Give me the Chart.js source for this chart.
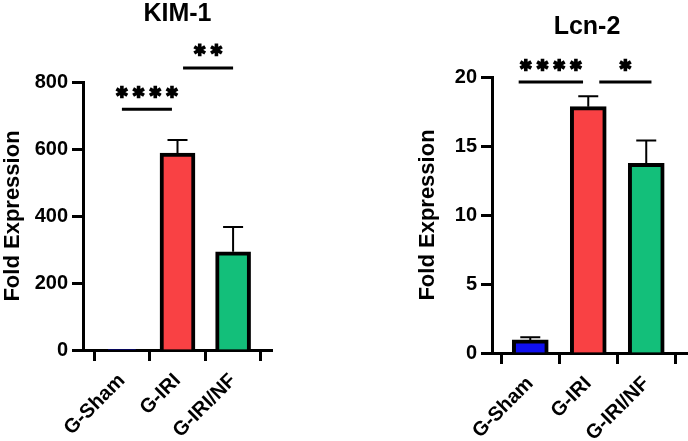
<!DOCTYPE html>
<html>
<head>
<meta charset="utf-8">
<script src="https://cdn.jsdelivr.net/npm/chart.js@4.4.1/dist/chart.umd.min.js"></script>
<style>
  html, body { margin: 0; padding: 0; background: #fff; }
  #wrap { position: relative; width: 688px; height: 441px; overflow: hidden; }
  canvas { position: absolute; top: 0; }
</style>
</head>
<body>
<div id="wrap">
  <canvas id="kim" width="344" height="441" style="left:0"></canvas>
  <canvas id="lcn" width="344" height="441" style="left:344px"></canvas>
</div>
<script>
// groups on the x axis
const categories = ['G-Sham', 'G-IRI', 'G-IRI/NF'];
const barColors = ['#1010f0', '#f94144', '#13bf7a'];

// KIM-1 fold expression (mean and upper error)
const kimMean = [1, 588, 293];
const kimErr = [0, 39, 74];
const kimTicks = [0, 200, 400, 600, 800];

// Lcn-2 fold expression (mean and upper error)
const lcnMean = [0.95, 17.85, 13.75];
const lcnErr = [0.2, 0.75, 1.65];
const lcnTicks = [0, 5, 10, 15, 20];

// significance brackets, in data units
const kimSig = [
    { from: 0, to: 0.9, y: 719, stars: 4, labelY: 770 },
    { from: 1.1, to: 2.0, y: 842, stars: 2, labelY: 896 }
];
const lcnSig = [
    { from: -0.2, to: 0.91, y: 19.64, stars: 4, labelY: 20.87 },
    { from: 1.19, to: 2.09, y: 19.64, stars: 1, labelY: 20.87 }
];

Chart.defaults.font.family = '"Liberation Sans", Arial, sans-serif';
Chart.defaults.font.weight = 'bold';
Chart.defaults.color = '#000';

// heavy six-armed asterisk like the Prism ones
function drawStar(ctx, x, y, r) {
    ctx.beginPath();
    for (let a = 0; a < 3; a++) {
        const t = Math.PI / 2 + a * Math.PI / 3;
        ctx.moveTo(x + r * Math.cos(t), y + r * Math.sin(t));
        ctx.lineTo(x - r * Math.cos(t), y - r * Math.sin(t));
    }
    ctx.stroke();
}

// Draws one-sided error bars, significance lines and the panel title
const extrasPlugin = {
    id: 'extras',
    afterDatasetsDraw(chart, args, opts) {
        const ctx = chart.ctx;
        const xs = chart.scales.x, ys = chart.scales.y;
        ctx.save();
        ctx.strokeStyle = '#000';
        ctx.lineWidth = 2;
        opts.mean.forEach((m, i) => {
            if (!opts.err[i]) return;
            const x = xs.getPixelForValue(i);
            const yb = ys.getPixelForValue(m);
            const yt = ys.getPixelForValue(m + opts.err[i]);
            ctx.beginPath();
            ctx.moveTo(x, yb);
            ctx.lineTo(x, yt);
            ctx.moveTo(x - 10, yt);
            ctx.lineTo(x + 10, yt);
            ctx.stroke();
        });
        ctx.restore();
    },
    afterDraw(chart, args, opts) {
        const ctx = chart.ctx;
        const xs = chart.scales.x, ys = chart.scales.y;
        ctx.save();
        ctx.strokeStyle = '#000';
        ctx.fillStyle = '#000';
        opts.sig.forEach(s => {
            const y = ys.getPixelForValue(s.y);
            ctx.lineWidth = 3;
            ctx.lineCap = 'butt';
            ctx.beginPath();
            ctx.moveTo(xs.getPixelForValue(s.from), y);
            ctx.lineTo(xs.getPixelForValue(s.to), y);
            ctx.stroke();

            const cy = ys.getPixelForValue(s.labelY);
            const cx = xs.getPixelForValue((s.from + s.to) / 2);
            const gap = 16.7;
            ctx.lineWidth = 3.6;
            for (let k = 0; k < s.stars; k++) {
                drawStar(ctx, cx + (k - (s.stars - 1) / 2) * gap, cy, 6.3);
            }
        });

        // panel title
        ctx.font = 'bold 25px "Liberation Sans", Arial, sans-serif';
        ctx.textAlign = 'center';
        ctx.textBaseline = 'middle';
        const area = chart.chartArea;
        ctx.fillText(opts.title, (area.left + area.right) / 2 + (opts.titleShift || 0), opts.titleY);
        ctx.restore();
    }
};

function makeChart(id, cfg) {
    const axisGrid = {
        drawOnChartArea: false,
        drawTicks: true,
        tickLength: 11,
        tickWidth: 3,
        tickColor: '#000'
    };
    return new Chart(document.getElementById(id), {
        type: 'bar',
        data: {
            datasets: [{
                data: cfg.mean.map((v, i) => ({ x: i, y: v })),
                backgroundColor: barColors,
                borderColor: '#000',
                borderWidth: 4,
                barThickness: cfg.barWidth
            }]
        },
        options: {
            responsive: false,
            animation: false,
            layout: { padding: cfg.padding },
            plugins: {
                legend: { display: false },
                tooltip: { enabled: false },
                extras: {
                    mean: cfg.mean,
                    err: cfg.err,
                    sig: cfg.sig,
                    title: cfg.title,
                    titleY: cfg.titleY,
                    titleShift: cfg.titleShift
                }
            },
            scales: {
                x: {
                    type: 'linear',
                    offset: false,
                    min: cfg.xMin,
                    max: cfg.xMax,
                    z: 1,
                    afterBuildTicks: s => { s.ticks = categories.map((c, i) => ({ value: i })); },
                    afterFit: s => { s.height = cfg.xHeight; },
                    ticks: {
                        autoSkip: false,
                        minRotation: 45,
                        maxRotation: 45,
                        padding: 8,
                        font: { size: 20, weight: 'bold' },
                        callback: v => categories[v]
                    },
                    grid: axisGrid,
                    border: { display: true, width: 3, color: '#000' }
                },
                y: {
                    min: 0,
                    max: cfg.ticks[cfg.ticks.length - 1],
                    z: 1,
                    afterBuildTicks: s => { s.ticks = cfg.ticks.map(v => ({ value: v })); },
                    afterFit: s => { s.width = cfg.yWidth; },
                    ticks: {
                        padding: 4,
                        font: { size: 20, weight: 'bold' }
                    },
                    title: {
                        display: true,
                        text: 'Fold Expression',
                        padding: 0,
                        font: { size: 22, weight: 'bold' }
                    },
                    grid: axisGrid,
                    border: { display: true, width: 3, color: '#000' }
                }
            }
        },
        plugins: [extrasPlugin]
    });
}

makeChart('kim', {
    mean: kimMean, err: kimErr, sig: kimSig, ticks: kimTicks,
    title: 'KIM-1', titleY: 14,
    padding: { left: 0, top: 82, right: 72, bottom: 0 },
    yWidth: 83, xHeight: 91, xMin: -0.7, xMax: 2.7, barWidth: 35
});

makeChart('lcn', {
    mean: lcnMean, err: lcnErr, sig: lcnSig, ticks: lcnTicks,
    title: 'Lcn-2', titleY: 27, titleShift: -3,
    padding: { left: 71, top: 77, right: 0, bottom: 0 },
    yWidth: 77, xHeight: 88, xMin: -0.66, xMax: 2.72, barWidth: 36
});
</script>
</body>
</html>
